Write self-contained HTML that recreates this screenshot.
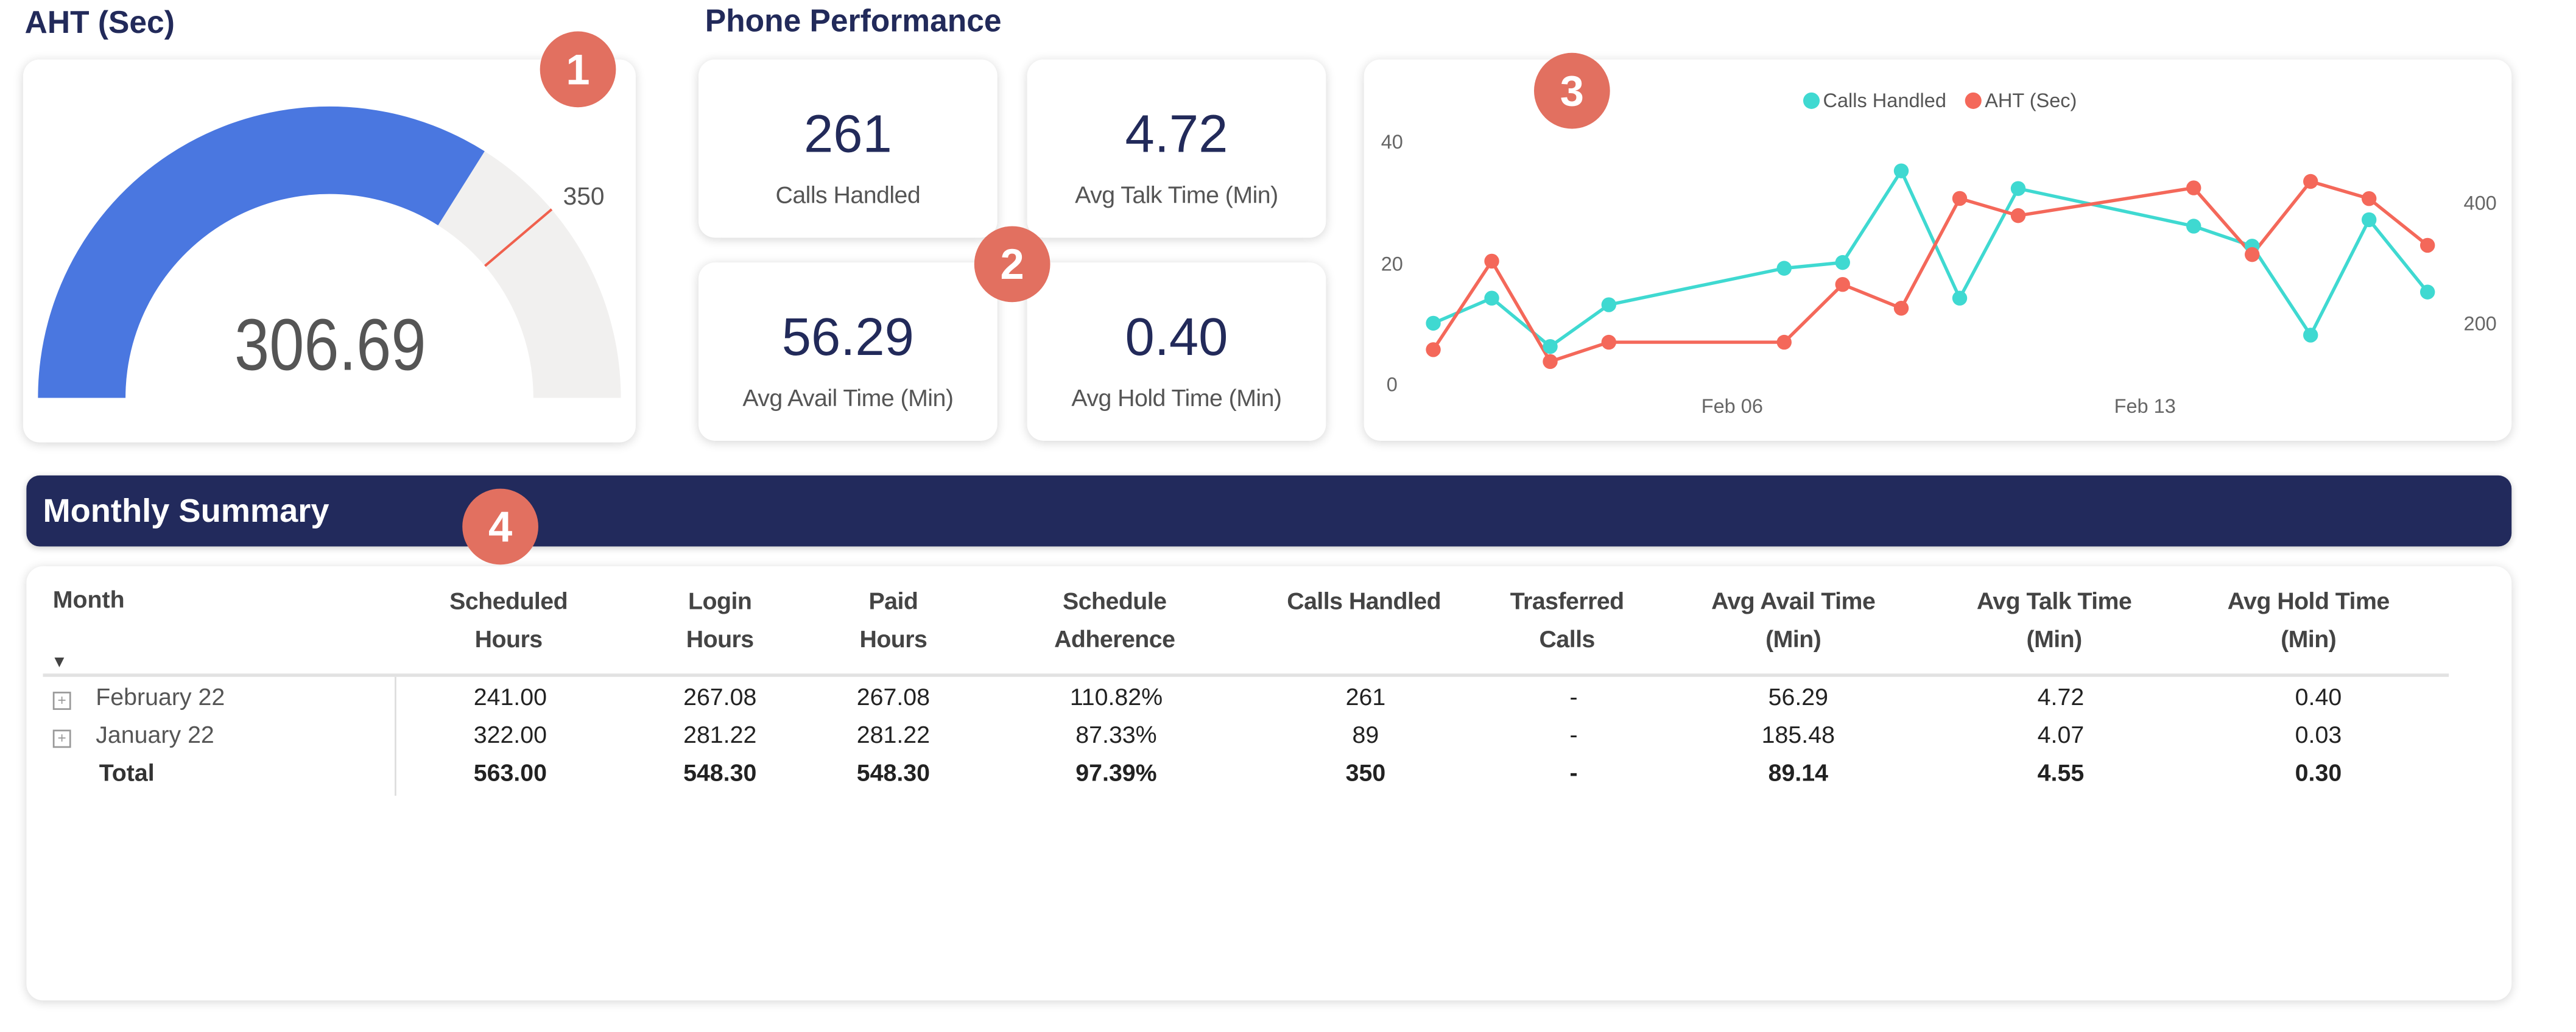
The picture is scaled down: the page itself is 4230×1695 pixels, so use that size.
<!DOCTYPE html>
<html><head><meta charset="utf-8"><style>
html,body{margin:0;padding:0;background:#fff;width:4230px;height:1693px;overflow:hidden}
#r{position:absolute;left:0;top:0;width:1560px;height:625px;transform:scale(2.7115);transform-origin:0 0;font-family:"Liberation Sans",sans-serif}
.card{position:absolute;background:#fff;border-radius:10px;box-shadow:0 1px 6px rgba(0,0,0,0.16)}
.t{position:absolute;white-space:nowrap}
.badge{position:absolute;width:46px;height:46px;border-radius:50%;background:#e27060;color:#fff;font-weight:bold;font-size:26px;text-align:center;line-height:46px}
.kv{position:absolute;left:0;right:0;text-align:center;color:#222a5a;font-size:32px;top:27px}
.kl{position:absolute;left:0;right:0;text-align:center;color:#555;font-size:14.5px;top:75px;letter-spacing:-0.2px}
.h{position:absolute;font-weight:bold;color:#444;font-size:14.5px;text-align:center;line-height:23px;transform:translateX(-50%);top:354px;white-space:nowrap;letter-spacing:-0.2px}
.c{position:absolute;font-size:14.5px;color:#222;transform:translateX(-50%);white-space:nowrap}
.b{font-weight:bold}
.box{position:absolute;left:32px;width:9px;height:9px;border:1px solid #999;font-size:9px;line-height:9px;text-align:center;color:#999}
</style></head><body><div id="r">
<div class="t" style="left:15px;top:4px;font-size:19px;font-weight:bold;color:#222a5a">AHT (Sec)</div>
<div class="t" style="left:427px;top:3px;font-size:19px;font-weight:bold;color:#222a5a">Phone Performance</div>

<div class="card" style="left:14px;top:36px;width:371px;height:232px"></div>
<svg style="position:absolute;left:0;top:0" width="420" height="280">
<path d="M23 241 A176.5 176.5 0 0 1 376 241 L323 241 A123.5 123.5 0 0 0 76 241 Z" fill="#f1f0ef"/>
<path d="M23 241 A176.5 176.5 0 0 1 293.5 91.6 L265.3 136.5 A123.5 123.5 0 0 0 76 241 Z" fill="#4a77e0"/>
<line x1="334.1" y1="126.8" x2="293.7" y2="161.1" stroke="#f0604d" stroke-width="1.5"/>
<text x="341" y="124" font-size="15" fill="#555" font-family="Liberation Sans">350</text>
<text x="200" y="224" font-size="44" fill="#555" text-anchor="middle" font-family="Liberation Sans" textLength="116" lengthAdjust="spacingAndGlyphs">306.69</text>
</svg>

<div class="card" style="left:423px;top:36px;width:181px;height:108px"><div class="kv">261</div><div class="kl">Calls Handled</div></div>
<div class="card" style="left:622px;top:36px;width:181px;height:108px"><div class="kv">4.72</div><div class="kl">Avg Talk Time (Min)</div></div>
<div class="card" style="left:423px;top:159px;width:181px;height:108px"><div class="kv">56.29</div><div class="kl">Avg Avail Time (Min)</div></div>
<div class="card" style="left:622px;top:159px;width:181px;height:108px"><div class="kv">0.40</div><div class="kl">Avg Hold Time (Min)</div></div>

<div class="card" style="left:826px;top:36px;width:695px;height:231px"></div>
<svg style="position:absolute;left:0;top:0" width="1560" height="280" font-family="Liberation Sans">
<circle cx="1097" cy="61" r="5" fill="#3fd9d1"/><text x="1104" y="65" font-size="12" fill="#555">Calls Handled</text>
<circle cx="1195" cy="61" r="5" fill="#f4685a"/><text x="1202" y="65" font-size="12" fill="#555">AHT (Sec)</text>
<g font-size="12" fill="#666">
<text x="843" y="90" text-anchor="middle">40</text>
<text x="843" y="164" text-anchor="middle">20</text>
<text x="843" y="237" text-anchor="middle">0</text>
<text x="1512" y="127" text-anchor="end">400</text>
<text x="1512" y="200" text-anchor="end">200</text>
<text x="1049" y="250" text-anchor="middle">Feb 06</text>
<text x="1299" y="250" text-anchor="middle">Feb 13</text>
</g>
<polyline fill="none" stroke="#3fd9d1" stroke-width="2" points="868,195.8 903.4,180.6 938.8,209.9 974.3,184.6 1080.5,162.5 1115.9,159 1151.4,103.5 1186.8,180.6 1222.2,114.2 1328.5,137 1363.9,149.1 1399.3,203 1434.7,133.1 1470.1,176.9"/>
<polyline fill="none" stroke="#f4685a" stroke-width="2" points="868,211.8 903.4,158.2 938.8,219 974.3,207.3 1080.5,207.3 1115.9,172.3 1151.4,186.7 1186.8,120.2 1222.2,130.6 1328.5,113.8 1363.9,154.2 1399.3,109.9 1434.7,120.3 1470.1,148.6"/>
<g fill="#3fd9d1">
<circle cx="868" cy="195.8" r="4.5"/><circle cx="903.4" cy="180.6" r="4.5"/><circle cx="938.8" cy="209.9" r="4.5"/><circle cx="974.3" cy="184.6" r="4.5"/><circle cx="1080.5" cy="162.5" r="4.5"/><circle cx="1115.9" cy="159" r="4.5"/><circle cx="1151.4" cy="103.5" r="4.5"/><circle cx="1186.8" cy="180.6" r="4.5"/><circle cx="1222.2" cy="114.2" r="4.5"/><circle cx="1328.5" cy="137" r="4.5"/><circle cx="1363.9" cy="149.1" r="4.5"/><circle cx="1399.3" cy="203" r="4.5"/><circle cx="1434.7" cy="133.1" r="4.5"/><circle cx="1470.1" cy="176.9" r="4.5"/>
</g>
<g fill="#f4685a">
<circle cx="868" cy="211.8" r="4.5"/><circle cx="903.4" cy="158.2" r="4.5"/><circle cx="938.8" cy="219" r="4.5"/><circle cx="974.3" cy="207.3" r="4.5"/><circle cx="1080.5" cy="207.3" r="4.5"/><circle cx="1115.9" cy="172.3" r="4.5"/><circle cx="1151.4" cy="186.7" r="4.5"/><circle cx="1186.8" cy="120.2" r="4.5"/><circle cx="1222.2" cy="130.6" r="4.5"/><circle cx="1328.5" cy="113.8" r="4.5"/><circle cx="1363.9" cy="154.2" r="4.5"/><circle cx="1399.3" cy="109.9" r="4.5"/><circle cx="1434.7" cy="120.3" r="4.5"/><circle cx="1470.1" cy="148.6" r="4.5"/>
</g>
</svg>

<div style="position:absolute;left:16px;top:288px;width:1505px;height:43px;background:#222a5c;border-radius:8px;box-shadow:0 1px 4px rgba(0,0,0,0.2)"></div>
<div class="t" style="left:26px;top:299px;font-size:20px;font-weight:bold;color:#fff">Monthly Summary</div>

<div class="card" style="left:16px;top:343px;width:1505px;height:263px"></div>
<div class="t" style="left:32px;top:356px;font-size:14.5px;font-weight:bold;color:#444">Month</div>
<div class="t" style="left:31px;top:396px;font-size:10px;color:#444">▼</div>
<div class="h" style="left:308px">Scheduled<br>Hours</div>
<div class="h" style="left:436px">Login<br>Hours</div>
<div class="h" style="left:541px">Paid<br>Hours</div>
<div class="h" style="left:675px">Schedule<br>Adherence</div>
<div class="h" style="left:826px">Calls Handled</div>
<div class="h" style="left:949px">Trasferred<br>Calls</div>
<div class="h" style="left:1086px">Avg Avail Time<br>(Min)</div>
<div class="h" style="left:1244px">Avg Talk Time<br>(Min)</div>
<div class="h" style="left:1398px">Avg Hold Time<br>(Min)</div>
<div style="position:absolute;left:26px;top:408px;width:1457px;height:2px;background:#e2e2e2"></div>
<div style="position:absolute;left:239px;top:410px;width:1px;height:72px;background:#ddd"></div>

<div class="box" style="top:419px">+</div><div class="t" style="left:58px;top:415px;font-size:14.5px;color:#555">February 22</div>
<div class="box" style="top:442px">+</div><div class="t" style="left:58px;top:438px;font-size:14.5px;color:#555">January 22</div>
<div class="t b" style="left:60px;top:461px;font-size:14.5px;color:#333">Total</div>

<div class="c" style="left:309px;top:415px">241.00</div><div class="c" style="left:436px;top:415px">267.08</div><div class="c" style="left:541px;top:415px">267.08</div><div class="c" style="left:676px;top:415px">110.82%</div><div class="c" style="left:827px;top:415px">261</div><div class="c" style="left:953px;top:415px">-</div><div class="c" style="left:1089px;top:415px">56.29</div><div class="c" style="left:1248px;top:415px">4.72</div><div class="c" style="left:1404px;top:415px">0.40</div>
<div class="c" style="left:309px;top:438px">322.00</div><div class="c" style="left:436px;top:438px">281.22</div><div class="c" style="left:541px;top:438px">281.22</div><div class="c" style="left:676px;top:438px">87.33%</div><div class="c" style="left:827px;top:438px">89</div><div class="c" style="left:953px;top:438px">-</div><div class="c" style="left:1089px;top:438px">185.48</div><div class="c" style="left:1248px;top:438px">4.07</div><div class="c" style="left:1404px;top:438px">0.03</div>
<div class="c b" style="left:309px;top:461px">563.00</div><div class="c b" style="left:436px;top:461px">548.30</div><div class="c b" style="left:541px;top:461px">548.30</div><div class="c b" style="left:676px;top:461px">97.39%</div><div class="c b" style="left:827px;top:461px">350</div><div class="c b" style="left:953px;top:461px">-</div><div class="c b" style="left:1089px;top:461px">89.14</div><div class="c b" style="left:1248px;top:461px">4.55</div><div class="c b" style="left:1404px;top:461px">0.30</div>

<div class="badge" style="left:327px;top:19px">1</div>
<div class="badge" style="left:590px;top:137px">2</div>
<div class="badge" style="left:929px;top:32px">3</div>
<div class="badge" style="left:280px;top:296px">4</div>
</div></body></html>
